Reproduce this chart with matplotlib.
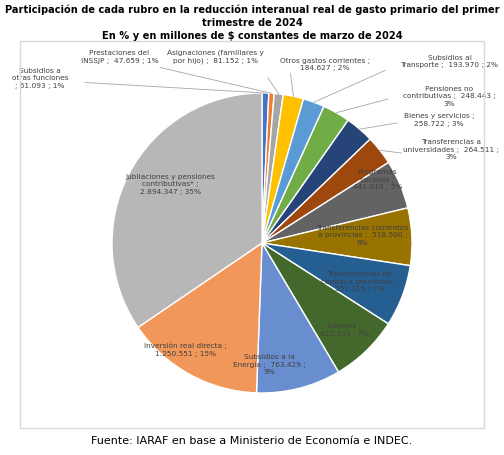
import numpy as np
import matplotlib.pyplot as plt

labels = ["Subsidios a\notras funciones\n; 61.093 ; 1%",
          "Prestaciones del\nINSSJP ;  47.659 ; 1%",
          "Asignaciones (familiares y\npor hijo) ;  81.152 ; 1%",
          "Otros gastos corrientes ;\n184.627 ; 2%",
          "Subsidios al\nTransporte ;  193.970 ; 2%",
          "Pensiones no\ncontributivas ;  248.443 ;\n3%",
          "Bienes y servicios ;\n258.722 ; 3%",
          "Transferencias a\nuniversidades ;  264.511 ;\n3%",
          "Programas\nsociales ;\n441.010 ; 5%",
          "Transferencias corrientes\na provincias ;  518.500 ;\n6%",
          "Transferencias de\ncapital a provincias ;\n557.315 ; 7%",
          "Salarios ;\n622.333 ; 7%",
          "Subsidios a la\nEnergía ;  763.429 ;\n9%",
          "Inversión real directa ;\n1.250.551 ; 15%",
          "Jubilaciones y pensiones\ncontributivas* ;\n2.894.347 ; 35%"]
values = [61093, 47659, 81152, 184627, 193970, 248443, 258722, 264511,
          441010, 518500, 557315, 622333, 763429, 1250551, 2894347]
colors = ["#4472c4", "#ed7d31", "#a5a5a5", "#ffc000", "#5b9bd5", "#70ad47",
          "#264478", "#9e480e", "#636363", "#997300", "#255e91", "#43682b",
          "#698ed0", "#f1975a", "#b7b7b7"]
label_pos = [(-1.48, 1.10), (-0.95, 1.24), (-0.31, 1.24), (0.42, 1.19),
             (1.25, 1.21), (1.25, 0.98), (1.18, 0.82), (1.26, 0.62),
             (0.77, 0.42), (0.67, 0.05), (0.65, -0.26), (0.55, -0.58),
             (0.05, -0.81), (-0.51, -0.71), (-0.61, 0.39)]
leader_end = [(-1.18, 1.07), (-0.68, 1.17), (0.04, 1.10), (0.19, 1.13),
              (0.82, 1.15), (0.84, 0.96), (0.90, 0.80), (0.93, 0.60)]

fig = plt.figure(figsize=(5.04, 4.55), dpi=100)
fig.text(0.5, 0.99, "Participación de cada rubro en la reducción interanual real de gasto primario del primer\ntrimestre de 2024\nEn % y en millones de $ constantes de marzo de 2024",
         ha="center", va="top", fontsize=7.1, fontweight="bold", linespacing=1.35)
fig.text(0.5, 0.03, "Fuente: IARAF en base a Ministerio de Economía e INDEC.",
         ha="center", va="center", fontsize=8)
fig.patches.append(plt.Rectangle((0.04, 0.06), 0.92, 0.85, transform=fig.transFigure,
                                 fill=False, edgecolor="#d9d9d9", linewidth=1))

ax = fig.add_axes([262/504 - 0.2976, 0.466 - 0.3297, 0.5952, 0.6593])
wedges, _ = ax.pie(values, colors=colors, startangle=90, counterclock=False,
                   wedgeprops=dict(edgecolor="white", linewidth=1))
ax.set_xlim(-1, 1)
ax.set_ylim(-1, 1)

for i, (w, lab, (x, y)) in enumerate(zip(wedges, labels, label_pos)):
    ax.text(x, y, lab, ha="center", va="center", fontsize=5.3,
            color="#404040", linespacing=1.3, clip_on=False)
    if i < len(leader_end):
        ang = np.deg2rad((w.theta1 + w.theta2) / 2)
        ex, ey = np.cos(ang), np.sin(ang)
        lx, ly = leader_end[i]
        ax.plot([ex, lx], [ey, ly], color="#a6a6a6", linewidth=0.6, clip_on=False)

fig.savefig("out.png", dpi=100)
